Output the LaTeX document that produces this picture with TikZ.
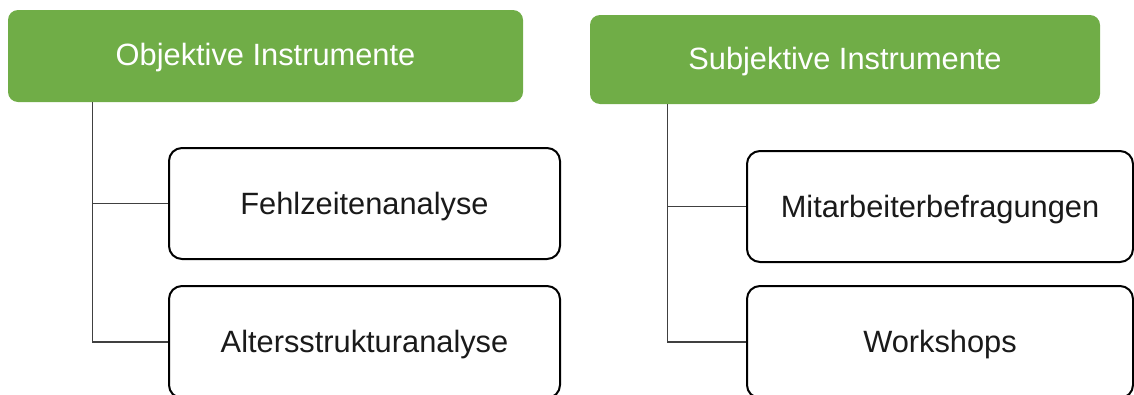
\documentclass[tikz,border=0pt]{standalone}
\usepackage{fontspec}
\setmainfont{Liberation Sans}
\definecolor{headgreen}{HTML}{70AD47}
\definecolor{linegray}{HTML}{404040}
\definecolor{textblack}{HTML}{1A1A1A}
\begin{document}
\begin{tikzpicture}[x=1pt,y=-1pt,
  headbox/.style={fill=headgreen,draw=none,rounded corners=10pt,text=white,
    font=\fontsize{30.8}{36}\selectfont,text height=22pt,text depth=3pt},
  itembox/.style={fill=white,draw=black,line width=2pt,rounded corners=13pt,text=textblack,
    font=\fontsize{30.8}{36}\selectfont,text height=22pt,text depth=1pt},
  conn/.style={draw=linegray,line width=1.3pt}]
\useasboundingbox (0,0) rectangle (1134,394);
\clip (0,0) rectangle (1134,394);
\node[headbox,minimum width=515pt,minimum height=92pt] (g1) at (265.5,56) {Objektive Instrumente};
\node[headbox,minimum width=510pt,minimum height=89pt] (g2) at (845,59.5) {Subjektive Instrumente};
\node[itembox,minimum width=391pt,minimum height=111pt] (w1) at (364.5,203.5) {Fehlzeitenanalyse};
\node[itembox,minimum width=391pt,minimum height=112pt] (w2) at (364.5,342) {Altersstrukturanalyse};
\node[itembox,minimum width=386pt,minimum height=111pt] (w3) at (940,206.5) {Mitarbeiterbefragungen};
\node[itembox,minimum width=386pt,minimum height=112pt] (w4) at (940,342) {Workshops};
\draw[conn] ([xshift=85pt]g1.south west) |- (w1.west);
\draw[conn] ([xshift=85pt]g1.south west) |- (w2.west);
\draw[conn] ([xshift=78pt]g2.south west) |- (w3.west);
\draw[conn] ([xshift=78pt]g2.south west) |- (w4.west);
\end{tikzpicture}
\end{document}
